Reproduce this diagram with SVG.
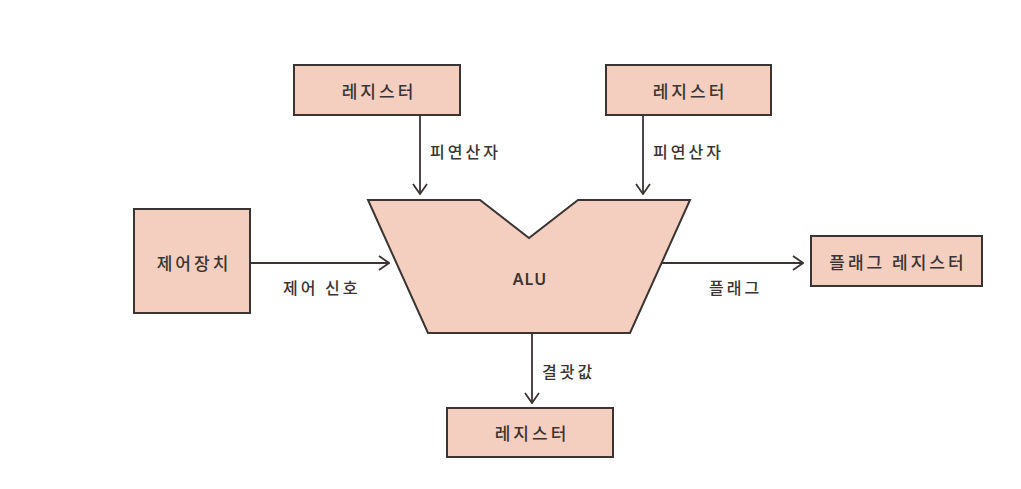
<svg xmlns="http://www.w3.org/2000/svg" width="1021" height="489" viewBox="0 0 1021 489">
<defs>
<style>
.box{fill:#F4CEBE;stroke:#3a3433;stroke-width:2}
.t{font-family:"Noto Sans CJK KR","Noto Sans",sans-serif;font-size:17px;font-weight:500;letter-spacing:3px;fill:#3a3433;text-anchor:middle;dominant-baseline:central}
.lbl{font-family:"Noto Sans CJK KR","Noto Sans",sans-serif;font-size:16px;font-weight:500;letter-spacing:3px;fill:#3a3433;dominant-baseline:central}
.c{stroke:#3a3433;stroke-width:1.8;fill:none}
</style>
<marker id="ah" viewBox="0 0 12 16" refX="11" refY="8" markerWidth="12" markerHeight="16" markerUnits="userSpaceOnUse" orient="auto">
<path d="M1,1 L11,8 L1,15" fill="none" stroke="#3a3433" stroke-width="1.8"/>
</marker>
</defs>
<rect width="1021" height="489" fill="#ffffff"/>
<g id="connectors">
<line class="c" x1="420" y1="115" x2="420" y2="194" marker-end="url(#ah)"/>
<line class="c" x1="643" y1="115" x2="643" y2="194" marker-end="url(#ah)"/>
<line class="c" x1="250" y1="263" x2="389" y2="263" marker-end="url(#ah)"/>
<line class="c" x1="662" y1="263" x2="803" y2="263" marker-end="url(#ah)"/>
<line class="c" x1="532" y1="333" x2="532" y2="403" marker-end="url(#ah)"/>
<text class="lbl" x="430" y="151">피연산자</text>
<text class="lbl" x="653" y="151">피연산자</text>
<text class="lbl" x="283" y="287">제어 신호</text>
<text class="lbl" x="709" y="287">플래그</text>
<text class="lbl" x="542" y="371">결괏값</text>
</g>
<g id="reg-top-left">
<rect class="box" x="294" y="65" width="166" height="50"/>
<text class="t" x="379" y="90">레지스터</text>
</g>
<g id="reg-top-right">
<rect class="box" x="606" y="65" width="165" height="50"/>
<text class="t" x="690" y="90">레지스터</text>
</g>
<g id="control-unit">
<rect class="box" x="134" y="209" width="116" height="104"/>
<text class="t" x="194" y="262">제어장치</text>
</g>
<g id="alu">
<path class="box" d="M368,200 L480,200 L529,238 L578,200 L690,200 L630,333 L428,333 Z"/>
<text class="t" x="530" y="279" style="font-family:'Noto Sans','DejaVu Sans',sans-serif;font-weight:600;font-size:16px;letter-spacing:1px">ALU</text>
</g>
<g id="flag-register">
<rect class="box" x="811" y="236" width="171" height="50"/>
<text class="t" x="898" y="261">플래그 레지스터</text>
</g>
<g id="reg-bottom">
<rect class="box" x="447" y="408" width="166" height="49"/>
<text class="t" x="532" y="432">레지스터</text>
</g>
</svg>
